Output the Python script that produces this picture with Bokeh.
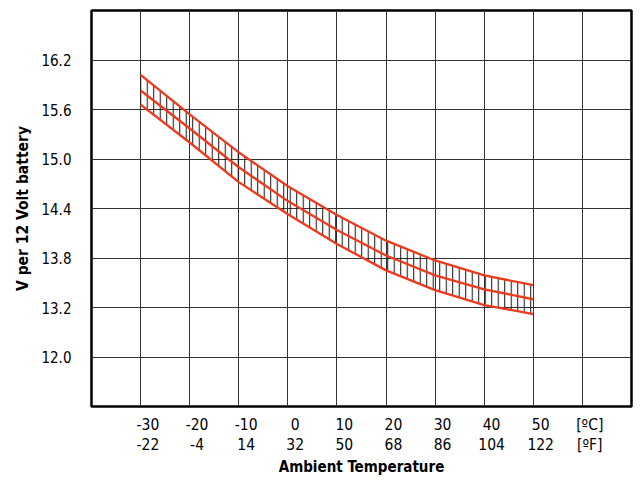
from bokeh.plotting import figure
from bokeh.models import Range1d, FixedTicker, ColumnDataSource
from bokeh.embed import file_html
from bokeh.resources import INLINE

# ---- data ----
temp_c = [-30, -20, -10, 0, 10, 20, 30, 40, 50]
v_upper = [16.02, 15.54, 15.08, 14.67, 14.32, 14.01, 13.77, 13.59, 13.47]
v_mid = [15.83, 15.37, 14.90, 14.49, 14.14, 13.83, 13.59, 13.42, 13.30]
v_lower = [15.66, 15.20, 14.72, 14.33, 13.97, 13.65, 13.41, 13.23, 13.12]

x_grid = [-30, -20, -10, 0, 10, 20, 30, 40, 50, 60]
x_labels_c = ["-30", "-20", "-10", "0", "10", "20", "30", "40", "50", "[ºC]"]
x_labels_f = ["-22", "-4", "14", "32", "50", "68", "86", "104", "122", "[ºF]"]
y_ticks = [12.6, 13.2, 13.8, 14.4, 15.0, 15.6, 16.2]
y_tick_labels = ["12.0", "13.2", "13.8", "14.4", "15.0", "15.6", "16.2"]

FONT = "DejaVu Sans Condensed"
RED = "#EC3A1C"
GRID = "#333333"
LABEL_SHIFT = 1.5  # right-aligned tick text sits slightly right of grid line

p = figure(width=633, height=479, output_backend="svg", toolbar_location=None,
           x_range=Range1d(-40, 70), y_range=Range1d(12.0, 16.8),
           min_border_left=91, min_border_top=10, min_border_right=2,
           min_border_bottom=0)
p.background_fill_color = "white"
p.border_fill_color = "white"
p.outline_line_color = "black"
p.outline_line_width = 2.5

p.xgrid.ticker = FixedTicker(ticks=x_grid)
p.ygrid.ticker = FixedTicker(ticks=y_ticks)
for g in (p.xgrid[0], p.ygrid[0]):
    g.grid_line_color = GRID
    g.grid_line_width = 1

ya = p.yaxis[0]
ya.ticker = FixedTicker(ticks=y_ticks)
ya.major_label_overrides = {t: l for t, l in zip(y_ticks, y_tick_labels)}
ya.axis_line_color = None
ya.major_tick_line_color = None
ya.minor_tick_line_color = None
ya.major_label_standoff = 14
ya.major_label_text_font = FONT
ya.major_label_text_font_size = "15px"
ya.major_label_text_color = "black"
ya.axis_label = "V per 12 Volt battery"
ya.axis_label_text_font = FONT
ya.axis_label_text_font_style = "bold"
ya.axis_label_text_font_size = "15.5px"
ya.axis_label_text_color = "black"
ya.axis_label_standoff = 6

c_pos = [x + LABEL_SHIFT for x in x_grid]
xa = p.xaxis[0]
xa.ticker = FixedTicker(ticks=c_pos)
xa.major_label_overrides = {t: c + "\n" + f for t, c, f in zip(c_pos, x_labels_c, x_labels_f)}
xa.axis_line_color = None
xa.major_tick_line_color = None
xa.minor_tick_line_color = None
xa.major_label_standoff = 3
xa.major_label_text_align = "right"
xa.major_label_text_font = FONT
xa.major_label_text_font_size = "15.5px"
xa.major_label_text_line_height = 1.15
xa.major_label_text_color = "black"
xa.axis_label = "Ambient Temperature"
xa.axis_label_text_font = FONT
xa.axis_label_text_font_style = "bold"
xa.axis_label_text_font_size = "15px"
xa.axis_label_text_color = "black"
xa.axis_label_standoff = 1

src = ColumnDataSource(dict(t=temp_c, up=v_upper, mid=v_mid, lo=v_lower))

p.varea(x="t", y1="lo", y2="up", source=src, fill_alpha=0,
        hatch_pattern="vertical_line", hatch_color="#111111",
        hatch_weight=1, hatch_scale=6.5)

for col in ("up", "mid", "lo"):
    p.line(x="t", y=col, source=src, line_color=RED, line_width=2.3)

open("out.html", "w").write(file_html(p, INLINE))
